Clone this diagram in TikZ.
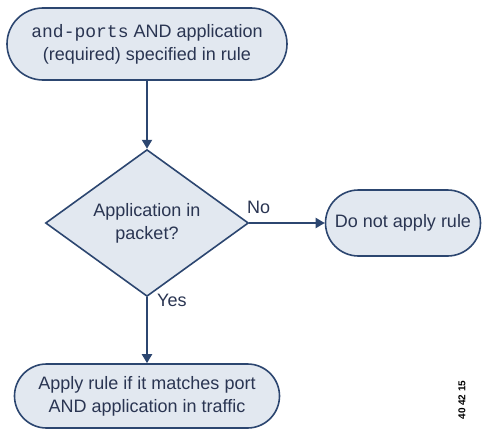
\documentclass[tikz,border=0pt]{standalone}
\usepackage{fontspec}
\setmainfont{Liberation Sans}
\setmonofont{Liberation Mono}
\usetikzlibrary{shapes.geometric,shapes.misc,arrows.meta}
\definecolor{boxfill}{HTML}{E2E8F0}
\definecolor{boxline}{HTML}{2C4670}
\definecolor{txt}{HTML}{2A3552}
\begin{document}
\begin{tikzpicture}[x=1pt,y=-1pt,
  term/.style={rounded rectangle,draw=boxline,fill=boxfill,line width=1.6pt,text=txt,align=center,font=\fontsize{18}{23}\selectfont,inner sep=0pt},
  decide/.style={diamond,draw=boxline,fill=boxfill,line width=1.6pt,text=txt,align=center,font=\fontsize{18}{23}\selectfont,inner sep=0pt},
  flow/.style={draw=boxline,line width=2pt,-{Triangle[length=9pt,width=10pt]}},
  lbl/.style={text=txt,font=\fontsize{18}{20}\selectfont,inner sep=0pt}]
\useasboundingbox (0,0) rectangle (482,431);
\node[term,minimum width=280pt,minimum height=72pt] (start) at (147,44) {{\ttfamily and-ports} AND application\\(required) specified in rule};
\node[decide,minimum width=203pt,minimum height=140pt] (dec) at (147,223) {Application in\\packet?};
\node[term,minimum width=155pt,minimum height=66pt] (no) at (403,223) {Do not apply rule};
\node[term,minimum width=265pt,minimum height=64pt] (yes) at (147,396) {Apply rule if it matches port\\AND application in traffic};
\draw[flow] (start.south) -- (dec.north);
\draw[flow] (dec.east) -- (no.west);
\draw[flow] (dec.south) -- (yes.north);
\node[lbl,anchor=west] (nolbl) at (247,207) {No};
\node[lbl,anchor=west] (yeslbl) at (157,300) {Yes};
\node[rotate=90,text=black,font=\bfseries\fontsize{10}{11}\selectfont,inner sep=0pt] (id) at (462,400) {40 42 15};
\end{tikzpicture}
\end{document}
